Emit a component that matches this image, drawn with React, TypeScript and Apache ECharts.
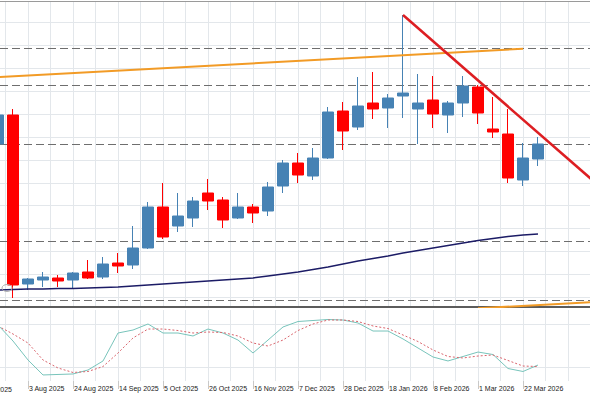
import React, { useEffect, useRef } from "react";
import * as echarts from "echarts";

// Weekly candles (week start dates)
const weeks = [
  "20 Jul 2025", "27 Jul 2025", "3 Aug 2025", "10 Aug 2025", "17 Aug 2025", "24 Aug 2025",
  "31 Aug 2025", "7 Sep 2025", "14 Sep 2025", "21 Sep 2025", "28 Sep 2025", "5 Oct 2025",
  "12 Oct 2025", "19 Oct 2025", "26 Oct 2025", "2 Nov 2025", "9 Nov 2025", "16 Nov 2025",
  "23 Nov 2025", "30 Nov 2025", "7 Dec 2025", "14 Dec 2025", "21 Dec 2025", "28 Dec 2025",
  "4 Jan 2026", "11 Jan 2026", "18 Jan 2026", "25 Jan 2026", "1 Feb 2026", "8 Feb 2026",
  "15 Feb 2026", "22 Feb 2026", "1 Mar 2026", "8 Mar 2026", "15 Mar 2026", "22 Mar 2026",
  "29 Mar 2026",
];
const opens = [181.5, 196, 111.5, 113.5, 114.5, 113.5, 117.5, 115, 122, 121, 129.5, 150, 140.5, 144.5, 157, 153.5, 144.5, 150, 148, 160.5, 172, 165.5, 174.5, 198, 190, 202, 199.5, 205.5, 199, 203.5, 196, 202, 210, 189, 186.5, 163.5, 174];
const closes = [196, 111, 114, 115, 113, 117, 114.5, 121.5, 120.5, 129.5, 150, 135, 145.5, 153, 153, 143.5, 150, 147, 160, 172, 166, 174.5, 197.5, 188, 200.5, 199, 204.5, 207, 202, 196.5, 202, 210.5, 197, 187.5, 164.5, 174.5, 181.5];
const lows = [180.5, 104.5, 108.5, 110, 110, 109.5, 114, 114, 117, 119, 129, 134, 137.5, 140, 148.5, 139.5, 144, 142, 145.5, 157, 162, 163.5, 174, 178.5, 188.5, 194, 189.5, 194.5, 181.5, 189.5, 187, 195, 191.5, 184.5, 162, 160.5, 170.5];
const highs = [197, 199, 114.5, 117.5, 116, 117.5, 123.5, 125, 127, 140.5, 152.5, 162, 157, 155, 164, 155, 157, 151.5, 162.5, 173.5, 177, 179.5, 200, 202.5, 215, 217.5, 206.5, 246, 216.5, 215.5, 203, 215.5, 211, 205, 199, 182, 185];

// Moving average
const movingAverage = [108.5, 108.75, 109, 109, 109.25, 109.25, 109.5, 109.75, 110, 110.5, 111, 111.5, 112, 112.5, 113, 113.5, 114, 114.5, 115.5, 116.5, 117.5, 118.75, 120, 121.5, 123, 124.25, 125.5, 127, 128.25, 129.5, 130.75, 132, 133.25, 134.25, 135.25, 136, 136.5];

// Stochastic oscillator
const stochK = [78.9, 56.3, 29.6, 8.5, 9.2, 9.9, 15.5, 28.2, 67.6, 71.8, 80.3, 67.6, 67.6, 63.4, 73.2, 67.6, 57.7, 39.4, 57.7, 76.1, 83.8, 85.2, 86.6, 85.9, 81.7, 70.4, 70.4, 59.2, 46.5, 33.8, 28.2, 34.5, 40.8, 37.3, 17.6, 13.4, 22.5];
const stochD = [77.5, 66.2, 53.5, 29.6, 18.3, 12.0, 13.4, 20.4, 39.4, 60.6, 73.2, 73.2, 71.1, 67.6, 69.0, 68.3, 63.4, 53.5, 49.3, 57.7, 71.1, 80.3, 85.9, 85.9, 83.8, 77.5, 73.9, 64.8, 55.6, 43.7, 34.5, 32.4, 35.2, 36.6, 28.9, 21.1, 20.4];
const stochLevels = [20, 80];

// Tick labels (every 3 weeks, starting 3 Aug 2025)
const tickLabels = ["3 Aug 2025", "24 Aug 2025", "14 Sep 2025", "5 Oct 2025", "26 Oct 2025", "16 Nov 2025", "7 Dec 2025", "28 Dec 2025", "18 Jan 2026", "8 Feb 2026", "1 Mar 2026", "22 Mar 2026"];
const cutLabel = "13 Jul 2025";

// Horizontal levels and trendlines (week offset from 3 Aug 2025, price)
const levels = [229.5, 211, 181.5, 133, 103.5];
const orangeTop = [[-2, 215], [33, 229.1]];
const orangeBottom = [[30, 99.33], [38, 102.55]];
const redTrend = [[25, 246], [38, 161]];

const FIRST_OFFSET = -2; // 20 Jul 2025 relative to 3 Aug 2025
const XMIN = -28 / 15;
const XMAX = 562 / 15;

export default function App() {
  const ref = useRef<HTMLDivElement>(null);
  useEffect(() => {
    if (!ref.current) return;
    const chart = echarts.init(ref.current, null, { renderer: "svg" });
    const xs = weeks.map((_, i) => i + FIRST_OFFSET);
    const candles = weeks.map((_, i) => [xs[i], opens[i], closes[i], lows[i], highs[i]]);
    const tickVals = tickLabels.map((_, i) => i * 3);
    const vGrid: number[] = [];
    for (let v = -1.5; v <= 37.5; v += 1.5) vGrid.push(v);
    const hGrid: number[] = [];
    for (let k = 0; k <= 12; k++) hGrid.push(242.25 - 11.45 * k);
    const gridLine = { color: "#e3e7eb", width: 1, type: "solid" };
    const font = "Liberation Sans, Arial, sans-serif";

    chart.setOption({
      animation: false,
      backgroundColor: "#ffffff",
      grid: [
        { left: 0, top: 1, width: 590, height: 306 },
        { left: 0, top: 310, width: 590, height: 71 },
      ],
      xAxis: [
        {
          type: "value", gridIndex: 0, min: XMIN, max: XMAX,
          axisLabel: { show: false }, axisTick: { show: false }, splitLine: { show: false },
          axisLine: { show: true, onZero: false, lineStyle: { color: "#5c5c5c", width: 2 } },
        },
        {
          type: "value", gridIndex: 1, min: XMIN, max: XMAX,
          splitLine: { show: false },
          axisLine: { show: false, onZero: false },
          axisTick: { show: true, customValues: tickVals, length: 8, lineStyle: { color: "#c8c8c8" } },
          axisLabel: {
            customValues: tickVals,
            formatter: (v: number) => tickLabels[Math.round(v / 3)] ?? "",
            align: "left", padding: [0, 0, 0, 1],
            fontSize: 7, color: "#222", margin: 4, fontFamily: font,
          },
        },
      ],
      yAxis: [
        { type: "value", gridIndex: 0, min: 100, max: 253, show: false, splitLine: { show: false } },
        { type: "value", gridIndex: 1, min: 0, max: 100, show: false, splitLine: { show: false } },
      ],
      graphic: [
        { type: "line", shape: { x1: 0, y1: 1.5, x2: 590, y2: 1.5 }, style: { stroke: "#9a9a9a", lineWidth: 1 }, z: 100 },
        { type: "ellipse", shape: { cx: 7, cy: 288, rx: 5, ry: 3.5 }, style: { stroke: "#b0b0b0", fill: "none", lineWidth: 1 }, z: 100 },
        { type: "text", x: 12, y: 389, style: { text: cutLabel, align: "right", verticalAlign: "middle", fontSize: 7, fill: "#222", fontFamily: font }, z: 100 },
      ],
      series: [
        {
          type: "line", xAxisIndex: 0, yAxisIndex: 0, data: [], z: 0, silent: true,
          markLine: {
            silent: true, symbol: ["none", "none"], label: { show: false }, z: 0,
            lineStyle: gridLine,
            data: [...vGrid.map((v) => ({ xAxis: v })), ...hGrid.map((p) => ({ yAxis: p }))],
          },
        },
        {
          type: "line", xAxisIndex: 0, yAxisIndex: 0, data: [], z: 1, silent: true,
          markLine: {
            silent: true, symbol: ["none", "none"], label: { show: false }, z: 1,
            lineStyle: { color: "#6e6e6e", width: 1, type: [8, 4] },
            data: levels.map((p) => ({ yAxis: p })),
          },
        },
        {
          type: "candlestick", xAxisIndex: 0, yAxisIndex: 0, data: candles,
          encode: { x: 0, y: [1, 2, 3, 4] }, barWidth: 11, z: 3,
          itemStyle: { color: "#4682B4", color0: "#FF0000", borderColor: "#4682B4", borderColor0: "#FF0000", borderWidth: 1 },
        },
        {
          type: "line", xAxisIndex: 0, yAxisIndex: 0, z: 4,
          data: xs.map((x, i) => [x, movingAverage[i]]),
          symbol: "none", lineStyle: { color: "#1c1c66", width: 1.5 },
        },
        {
          type: "line", xAxisIndex: 0, yAxisIndex: 0, z: 5, data: orangeTop,
          symbol: "none", lineStyle: { color: "#F29B26", width: 2 },
        },
        {
          type: "line", xAxisIndex: 0, yAxisIndex: 0, z: 5, data: orangeBottom,
          symbol: "none", lineStyle: { color: "#F29B26", width: 2 },
        },
        {
          type: "line", xAxisIndex: 0, yAxisIndex: 0, z: 5, data: redTrend,
          symbol: "none", lineStyle: { color: "#DD1E22", width: 2.5 },
        },
        {
          type: "line", xAxisIndex: 1, yAxisIndex: 1, data: [], z: 0, silent: true,
          markLine: {
            silent: true, symbol: ["none", "none"], label: { show: false }, z: 0,
            lineStyle: gridLine,
            data: [...vGrid.map((v) => ({ xAxis: v })), ...stochLevels.map((p) => ({ yAxis: p }))],
          },
        },
        {
          type: "line", xAxisIndex: 1, yAxisIndex: 1, z: 3,
          data: xs.map((x, i) => [x, stochK[i]]),
          symbol: "none", lineStyle: { color: "#78C4BB", width: 1 },
        },
        {
          type: "line", xAxisIndex: 1, yAxisIndex: 1, z: 4,
          data: xs.map((x, i) => [x, stochD[i]]),
          symbol: "none", lineStyle: { color: "#D9656D", width: 1, type: [2, 2] },
        },
      ],
    });
    return () => chart.dispose();
  }, []);
  return (
    <div
      ref={ref}
      style={{ position: "absolute", left: 0, top: 0, width: 590, height: 393, background: "#fff" }}
    />
  );
}
